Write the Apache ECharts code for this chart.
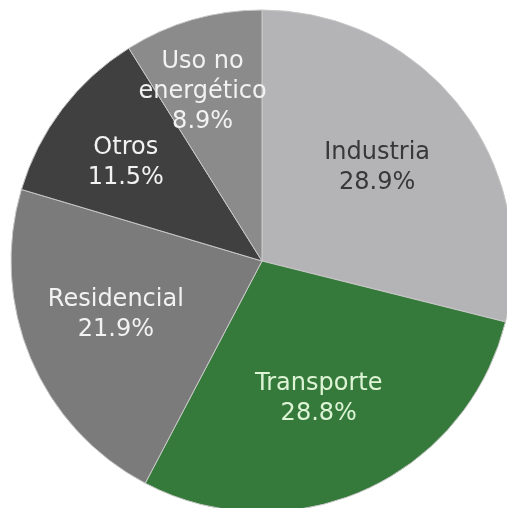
<!DOCTYPE html>
<html>
<head>
<meta charset="utf-8">
<script src="https://cdn.jsdelivr.net/npm/echarts@6/dist/echarts.min.js"></script>
<style>
  html, body { margin: 0; padding: 0; background: #fff; }
  #chart { width: 507px; height: 508px; }
</style>
</head>
<body>
<div id="chart"></div>
<script>
// sectores del consumo energético
const categories = ['Industria', 'Transporte', 'Residencial', 'Otros', 'Uso no\nenergético'];
const shares = [28.9, 28.8, 21.9, 11.5, 8.9];

const sliceColors = ['#b4b4b6', '#357a3b', '#7b7b7c', '#404040', '#8b8b8c'];
const textColors = ['#383838', '#def4d6', '#f2f2f2', '#f2f2f2', '#f2f2f2'];
// distancia de la etiqueta al centro, como fraccion del radio, y ajuste fino
const labelPos = [0.59, 0.59, 0.62, 0.67, 0.73];
const labelNudge = [[-4, 0], [-5, 0], [0, -8], [0, 5], [-8, 10]];

const R = 251;
const total = shares.reduce((a, b) => a + b, 0);
const midAngles = [];
let acc = 0;
shares.forEach(v => {
  midAngles.push((acc + v / 2) / total * Math.PI * 2);
  acc += v;
});

const chart = echarts.init(document.getElementById('chart'));
chart.setOption({
  animation: false,
  series: [{
    type: 'pie',
    center: [262, 261],
    radius: [0, R],
    startAngle: 90,
    clockwise: true,
    data: categories.map((name, i) => ({
      name: name,
      value: shares[i],
      itemStyle: { color: sliceColors[i] },
      label: { color: textColors[i] }
    })),
    itemStyle: { borderColor: '#c8c8c8', borderWidth: 1 },
    label: {
      position: 'inside',
      formatter: p => p.name + '\n' + p.value.toFixed(1) + '%',
      fontFamily: 'DejaVu Sans',
      fontSize: 24,
      lineHeight: 30
    },
    labelLayout: params => {
      const i = params.dataIndex;
      const shift = labelPos[i] * R - R / 2;
      return {
        dx: shift * Math.sin(midAngles[i]) + labelNudge[i][0],
        dy: -shift * Math.cos(midAngles[i]) + labelNudge[i][1]
      };
    }
  }]
});
</script>
</body>
</html>
